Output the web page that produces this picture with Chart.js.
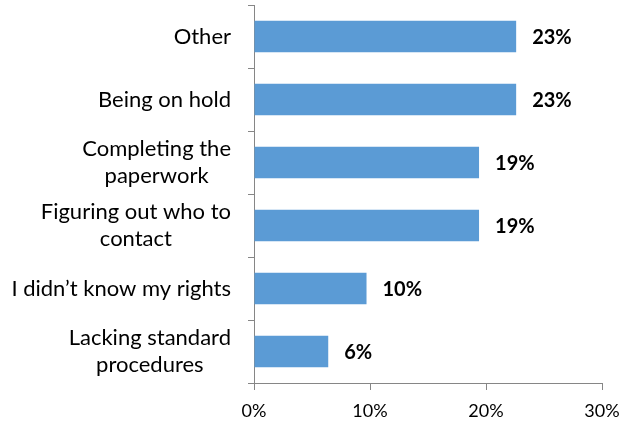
<!DOCTYPE html>
<html>
<head>
<meta charset="utf-8">
<script src="https://cdn.jsdelivr.net/npm/chart.js@4"></script>
<style>
  html, body { margin: 0; padding: 0; background: #fff; }
  #wrap { width: 624px; height: 425px; }
</style>
</head>
<body>
<div id="wrap"><canvas id="issues"></canvas></div>
<script>
var categories = [
  "Other",
  "Being on hold",
  ["Completing the", "paperwork"],
  ["Figuring out who to", "contact"],
  "I didn\u2019t know my rights",
  ["Lacking standard", "procedures"]
];
var shares = [22.6, 22.6, 19.4, 19.4, 9.7, 6.4];
var xTicks = [0, 10, 20, 30];

var axisGray = "#868686";
var fontName = "Lato, 'Noto Sans', sans-serif";

// bold percentage next to each bar
var valueLabels = {
  id: "valueLabels",
  afterDatasetsDraw: function (chart) {
    var ctx = chart.ctx;
    var meta = chart.getDatasetMeta(0);
    ctx.save();
    ctx.font = "bold 20px " + fontName;
    ctx.fillStyle = "#000";
    ctx.textAlign = "left";
    ctx.textBaseline = "middle";
    meta.data.forEach(function (bar, i) {
      ctx.fillText(Math.round(shares[i]) + "%", bar.x + 16, bar.y + 1.5);
    });
    ctx.restore();
  }
};

// category names: each block right-aligned to the axis, lines centred inside it
var categoryLabels = {
  id: "categoryLabels",
  afterDraw: function (chart) {
    var ctx = chart.ctx;
    var y = chart.scales.y;
    var right = chart.chartArea.left - 23;
    var lineH = 27;
    ctx.save();
    ctx.font = "22px " + fontName;
    ctx.fillStyle = "#000";
    ctx.textAlign = "center";
    ctx.textBaseline = "middle";
    categories.forEach(function (label, i) {
      var lines = Array.isArray(label) ? label : [label];
      var w = Math.max.apply(null, lines.map(function (s) { return ctx.measureText(s).width; }));
      var cx = right - w / 2;
      var cy = y.getPixelForTick(i);
      lines.forEach(function (s, j) {
        ctx.fillText(s, cx, cy + (j - (lines.length - 1) / 2) * lineH);
      });
    });
    ctx.restore();
  }
};

new Chart("issues", {
  type: "bar",
  data: {
    labels: categories,
    datasets: [{
      data: shares,
      backgroundColor: "#5B9BD5",
      barPercentage: 0.5,
      categoryPercentage: 1
    }]
  },
  plugins: [valueLabels, categoryLabels],
  options: {
    indexAxis: "y",
    responsive: true,
    maintainAspectRatio: false,
    animation: false,
    layout: { padding: { top: 5, right: 22, left: 0, bottom: 0 } },
    plugins: {
      legend: { display: false },
      tooltip: { enabled: false }
    },
    scales: {
      x: {
        min: 0,
        max: 30,
        afterBuildTicks: function (scale) {
          scale.ticks = xTicks.map(function (v) { return { value: v }; });
        },
        afterFit: function (scale) {
          scale.height = 42;
          scale.paddingLeft = 0;
          scale.paddingRight = 0;
        },
        grid: {
          drawOnChartArea: false,
          drawTicks: true,
          tickLength: 7,
          color: axisGray
        },
        border: { color: axisGray, width: 1 },
        ticks: {
          padding: 10,
          color: "#000",
          font: { family: fontName, size: 18 },
          callback: function (v) { return v + "%"; }
        }
      },
      y: {
        afterFit: function (scale) {
          scale.width = 254;
          scale.paddingTop = 0;
          scale.paddingBottom = 0;
        },
        grid: {
          drawOnChartArea: false,
          drawTicks: true,
          tickLength: 6,
          color: axisGray
        },
        border: { color: axisGray, width: 1 },
        ticks: { display: false, autoSkip: false }
      }
    }
  }
});
</script>
</body>
</html>
